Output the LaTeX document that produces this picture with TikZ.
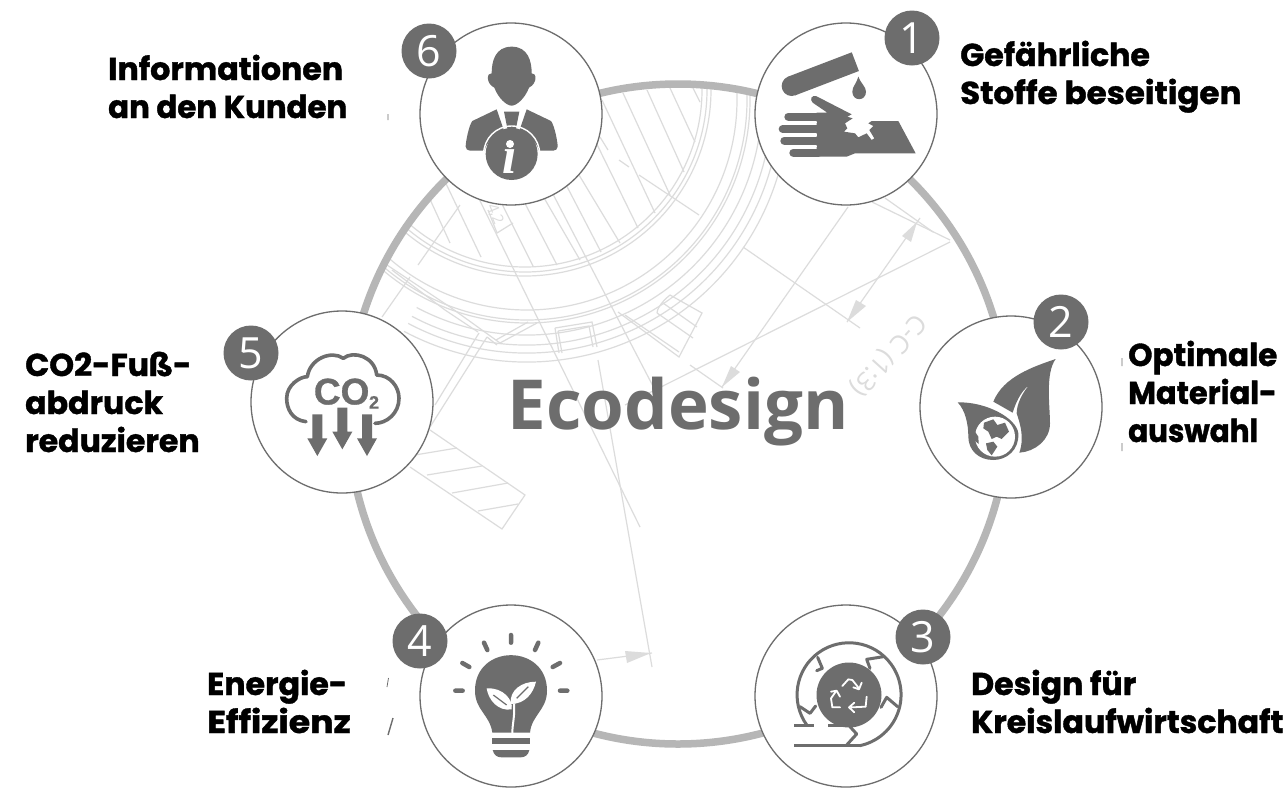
\documentclass[tikz,border=0pt]{standalone}
\usepackage{graphicx}
\usepackage{fontspec}
\setmainfont{Open Sans}
\newfontfamily\labfont[BoldFeatures={FakeBold=1.2}]{Poppins}
\newfontfamily\ecofont{Open Sans}
\newfontfamily\numfont{Open Sans}
\newfontfamily\coofont[BoldFeatures={FakeBold=0.8}]{Liberation Sans}
\newfontfamily\ifont{Liberation Serif}
\definecolor{gicon}{HTML}{6D6D6D}
\definecolor{gring}{HTML}{B6B6B6}
\definecolor{gbg}{HTML}{DCDCDC}
\tikzset{
  zm/.style 2 args={shift={(#1,#2)},x=0.33333pt,y=-0.33333pt},
  bgl/.style={draw=gbg,line width=1.2pt},
  bigc/.style={circle,draw=gicon,line width=1.3pt,fill=white,minimum size=182pt,inner sep=0pt},
  badge/.style={circle,fill=gicon,minimum size=55pt,inner sep=0pt,text=white,font=\numfont\fontsize{43}{43}\selectfont},
  lab/.style={anchor=base west,inner sep=0pt,align=left,text=black,font=\labfont\bfseries\fontsize{31.6}{38}\selectfont},
  ico/.style={fill=gicon,draw=none},
  icl/.style={draw=gicon,line width=3pt,line cap=round,line join=round},
  wh/.style={draw=white,line width=1.8pt,line cap=round,line join=round},
  stray/.style={draw=gicon,line width=.8pt}
}
\newcommand\bgarc[5]{\draw[bgl] (#1,#2) ++(#3:#5pt) arc[start angle=#3,end angle=#4,radius=#5pt];}
\begin{document}
\begin{tikzpicture}[x=1pt,y=-1pt]
\useasboundingbox (0,0) rectangle (1287,788);
\fill[white] (0,0) rectangle (1287,788);
\begin{scope}
\clip (678,414) circle[radius=328pt];
% concentric arcs
\foreach \r in {177,182,186}{\bgarc{525}{90}{-132}{3}{\r}}
\foreach \r in {210,220,223}{\bgarc{527}{100}{-132}{10}{\r}}
\foreach \r in {235,245,253,262}{\bgarc{527}{100}{-118}{8}{\r}}
% hatch
\foreach \a/\b/\c/\d in {670/88/695/142,647/90/684/172,623/93/670/195,602/100/655/213,585/120/638/228,570/160/620/243,548/150/601/252,525/165/580/260,505/165/557/265,480/160/533/266,430/150/481/257,412/160/450/243,693/88/700/102}{\draw[bgl] (\a,\b) -- (\c,\d);}
% long lines
\draw[bgl] (460,160) -- (640,527);
\draw[bgl] (530,150) -- (655,390);
\draw[bgl] (598,360) -- (652,667);
\draw[bgl] (460,205) -- (418,265);
\draw[bgl] (410,277) -- (382,317);
\draw[bgl] (600,137) -- (608,150) (619,160) -- (629,167) (639,175) -- (699,215);
% 4,2 leader
\draw[bgl] (488,210) -- (497,233) -- (513,223);
\node[rotate=-68,text=gbg,font=\fontsize{15}{15}\selectfont,inner sep=0pt] (dimtext) at (495,214) {4,2};
% lower left structure
\draw[bgl] (387,265) -- (450,307) -- (500,343);
\draw[bgl] (392,270) -- (445,310) -- (478,332);
\draw[bgl] (487,337) -- (430,427);
\draw[bgl] (479,333) -- (435,405);
\draw[bgl] (500,343) -- (537,323);
\draw[bgl] (496,340) -- (528,322);
\draw[bgl] (487,337) -- (497,345);
\draw[bgl] (555,328) -- (592,322) -- (597,347) (555,328) -- (559,353);
\draw[bgl] (558,331) -- (589,326) -- (593,347) (558,331) -- (562,353);
\draw[bgl] (618,312) -- (679,357) -- (702,313) -- (670,295) (625,315) -- (679,352);
\draw[bgl] (657,313) -- (693,338) (663,303) -- (697,327) (670,295) .. controls (660,303) and (657,310) .. (657,313);
% hatched piece
\draw[bgl] (430,430) -- (525,495) -- (502,529) -- (410,467);
\foreach \a/\b/\c/\d in {415/455/457/448,427/475/482/466,452/493/508/483,478/511/518/504}{\draw[bgl] (\a,\b) -- (\c,\d);}
\draw[bgl] (597,660) -- (652,653);
\fill[gbg] (651,653) -- (625,651) -- (627,663) -- cycle;
% right lines
\draw[bgl] (743,247) -- (860,328);
\draw[bgl] (848,207) -- (722,387);
\draw[bgl] (690,365) -- (723,388);
\draw[bgl] (950,242) -- (625,405);
\draw[bgl] (872,202) -- (950,240);
\draw[bgl] (885,198) -- (933,232);
\draw[bgl] (920,218) -- (847,322);
\fill[gbg] (722,387) -- (731,366) -- (740,372) -- cycle;
\fill[gbg] (917,222) -- (902,236) -- (911,242) -- cycle;
\fill[gbg] (847,322) -- (856,300) -- (866,306) -- cycle;
\node[rotate=228,text=gbg,font=\numfont\fontsize{26}{26}\selectfont,inner sep=0pt] (cctext) at (888,355) {C-C (1:3)};
\end{scope}
% ring
\node[circle,draw=gring,line width=7.5pt,minimum size=660pt,inner sep=0pt] (ring) at (678,414) {};
% title
\node[text=gicon,inner sep=0pt,font=\ecofont\bfseries\fontsize{69}{69}\selectfont,anchor=base] (title) at (678,429) {Ecodesign};
% circles
\node[bigc] (c1) at (846,114) {};
\node[bigc] (c2) at (1011,407) {};
\node[bigc] (c3) at (846,696) {};
\node[bigc] (c4) at (511,696) {};
\node[bigc] (c5) at (342,402) {};
\node[bigc] (c6) at (511,114) {};
% icon 1
\begin{scope}[zm={740}{10}]
\draw[gicon,line width=20pt] (346,155) -- (155,228);
\fill[ico] (155,228) circle[radius=10pt];
\fill[ico] (355,200) .. controls (350,220) and (337,230) .. (337,245) .. controls (337,275) and (378,275) .. (378,245) .. controls (378,230) and (362,220) .. (355,200) -- cycle;
\fill[ico] (230,308) -- (262,308) -- (218,278) .. controls (208,268) and (215,255) .. (228,258) -- (335,313) -- (322,320) -- (338,325) -- (315,340) -- (322,355) -- (312,365) -- (345,370) -- (355,382) -- (380,370) -- (395,390) -- (403,385) -- (388,360) -- (400,348) -- (385,340) -- (395,333) -- (475,333) -- (527,430) -- (345,430) -- (320,440) -- (230,440) -- cycle;
\draw[gicon,line width=8pt,line cap=round] (145,320) -- (235,320) (128,357) -- (235,357) (133,392) -- (235,392) (160,428) -- (235,428);
\draw[white,line width=1.6pt] (140,338) -- (230,338) (130,375) -- (230,375) (140,410) -- (230,410);
\end{scope}
% icon 2
\begin{scope}[zm={910}{290}]
\fill[ico] (250,335) .. controls (280,260) and (370,230) .. (437,207) .. controls (405,250) and (420,350) .. (420,400) .. controls (420,450) and (375,485) .. (328,488) .. controls (345,440) and (328,395) .. (320,370) .. controls (320,345) and (335,310) .. (358,285) .. controls (330,305) and (315,345) .. (308,368) -- cycle;
\fill[ico] (143,337) .. controls (230,335) and (320,385) .. (325,430) .. controls (328,480) and (290,510) .. (250,510) .. controls (205,510) and (175,480) .. (175,440) .. controls (175,400) and (165,360) .. (143,337) -- cycle;
\fill[white] (255,440) circle[radius=20pt];
\fill[ico] (222,398) -- (250,388) -- (262,405) -- (285,398) -- (297,425) -- (275,447) -- (260,440) -- (245,447) -- (235,425) -- (220,415) -- cycle;
\fill[ico] (228,460) -- (250,455) -- (262,470) -- (245,496) -- (232,480) -- cycle;
\fill[ico] (195,425) -- (205,440) -- (206,462) -- (192,450) -- cycle;
\end{scope}
% icon 3
\begin{scope}[zm={745}{600}]
\draw[icl] (186,376) arc[start angle=216,end angle=-78,radius=52pt];
\fill[ico] (312,285) circle[radius=32.5pt];
\draw[gicon,line width=3pt] (147,376) -- (207,376) (250,376) -- (310,376) (147,436) -- (345,436);
\draw[icl] (218,172) -- (232,205) -- (215,212);
\draw[icl] (415,170) -- (365,178) -- (375,205);
\draw[icl] (408,322) -- (425,292) -- (458,320);
\draw[icl] (212,318) -- (195,340) -- (165,320);
\draw[icl] (315,380) -- (335,402) -- (305,435);
\draw[wh] (292,258) -- (310,238) -- (322,240) -- (342,265) (350,248) -- (342,268) -- (325,262);
\draw[wh] (365,290) -- (362,320) -- (320,322) (328,308) -- (312,322) -- (328,337);
\draw[wh] (285,322) -- (262,322) -- (258,295) -- (272,275) (258,275) -- (275,272) -- (285,290);
\end{scope}
% icon 4
\begin{scope}[zm={390}{600}]
\fill[ico] (307,398) .. controls (300,345) and (255,330) .. (255,272) .. controls (255,130) and (471,130) .. (471,272) .. controls (471,330) and (425,345) .. (420,398) -- cycle;
\fill[ico] (307,415) rectangle (420,433);
\fill[ico] (308,450) -- (418,450) .. controls (415,465) and (405,472) .. (392,472) -- (335,472) .. controls (320,472) and (312,465) .. (308,450) -- cycle;
\draw[gicon,line width=4.5pt,line cap=round] (363,105) -- (363,128) (282,128) -- (292,150) (217,189) -- (238,201) (196,272) -- (218,272) (445,128) -- (435,150) (510,189) -- (488,201) (510,272) -- (532,272);
\draw[white,line width=2pt] (367,400) .. controls (367,370) and (375,350) .. (372,310);
\fill[white] (290,265) .. controls (340,262) and (370,300) .. (365,328) .. controls (325,335) and (295,300) .. (290,265) -- cycle;
\fill[white] (438,245) .. controls (395,245) and (358,270) .. (362,312) .. controls (405,312) and (430,280) .. (438,245) -- cycle;
\draw[gicon,line width=1.2pt] (310,285) -- (350,315) (415,260) -- (380,295);
\end{scope}
% icon 5
\begin{scope}[zm={220}{310}]
\draw[gicon,line width=3.6pt,line cap=round,line join=round] (258,335) .. controls (215,330) and (200,295) .. (200,265) .. controls (200,225) and (240,200) .. (262,200) .. controls (270,145) and (335,120) .. (370,145) .. controls (400,120) and (465,140) .. (470,195) .. controls (510,195) and (537,230) .. (537,265) .. controls (537,310) and (500,340) .. (465,340);
\node[text=gicon,font=\coofont\bfseries\fontsize{37}{37}\selectfont,inner sep=0pt] (co) at (365,245) {CO};
\node[text=gicon,font=\coofont\bfseries\fontsize{18}{18}\selectfont,inner sep=0pt] (cosub) at (462,277) {2};
\foreach \x/\t in {292/313,367/293,441/313}{\fill[ico] (\x-15,\t) -- (\x+15,\t) -- (\x+15,\t+72) -- (\x+30,\t+72) -- (\x,\t+125) -- (\x-30,\t+72) -- (\x-15,\t+72) -- cycle;}
\end{scope}
% icon 6
\begin{scope}[zm={395}{15}]
\fill[ico] (350,95) .. controls (300,95) and (290,140) .. (290,175) .. controls (275,172) and (272,205) .. (298,218) .. controls (310,250) and (335,272) .. (350,272) .. controls (365,272) and (390,250) .. (402,218) .. controls (428,205) and (425,172) .. (410,175) .. controls (410,140) and (400,95) .. (350,95) -- cycle;
\fill[ico] (305,283) -- (232,318) .. controls (222,330) and (212,380) .. (212,395) .. controls (212,402) and (218,407) .. (225,407) -- (268,407) .. controls (275,380) and (300,360) .. (328,350) -- cycle;
\fill[ico] (395,283) -- (468,318) .. controls (478,330) and (488,380) .. (488,395) .. controls (488,402) and (482,407) .. (475,407) -- (432,407) .. controls (425,380) and (400,360) .. (372,350) -- cycle;
\fill[ico] (327,290) -- (373,290) -- (362,345) -- (338,345) -- cycle;
\fill[ico] (350,417) circle[radius=26pt];
\draw[white,line width=1.4pt] (350,417) circle[radius=28pt];
\fill[white] (345,387) circle[radius=4pt];
\node[text=white,font=\ifont\bfseries\itshape\fontsize{52}{52}\selectfont,inner sep=0pt,anchor=base] (info) at (345,475) {\char"0131};
\end{scope}
% badges
\node[badge] (b1) at (912,38) {1};
\node[badge] (b2) at (1061,322) {2};
\node[badge] (b3) at (923,637) {3};
\node[badge] (b4) at (420,641) {4};
\node[badge] (b5) at (251,353) {5};
\node[badge] (b6) at (429,51) {6};
% labels
\node[lab] (l1) at (960,104) {Gefährliche\\\scalebox{1.03}[1]{Stoffe beseitigen}};
\node[lab] (l2) at (1128,442) {\scalebox{.98}[1]{Optimale}\\\scalebox{.96}[1]{Material-}\\\scalebox{.93}[1]{auswahl}};
\node[lab] (l3) at (971,733) {Design für\\Kreislaufwirtschaft};
\node[lab] (l4) at (207,733) {Energie-\\\scalebox{1.1}[1]{Effizienz}};
\node[lab] (l5) at (25,452) {CO2-Fuß-\\abdruck\\reduzieren};
\node[lab] (l6) at (108,118) {Informationen\\\scalebox{.975}[1]{an den Kunden}};
% stray marks
\draw[stray] (388,114) -- (388,120) (1122,358) -- (1122,366) (1122,443) -- (1122,451) (388.5,678) -- (387,687);
\draw[stray,line width=1.4pt] (393,718) -- (388,735);
\end{tikzpicture}
\end{document}
